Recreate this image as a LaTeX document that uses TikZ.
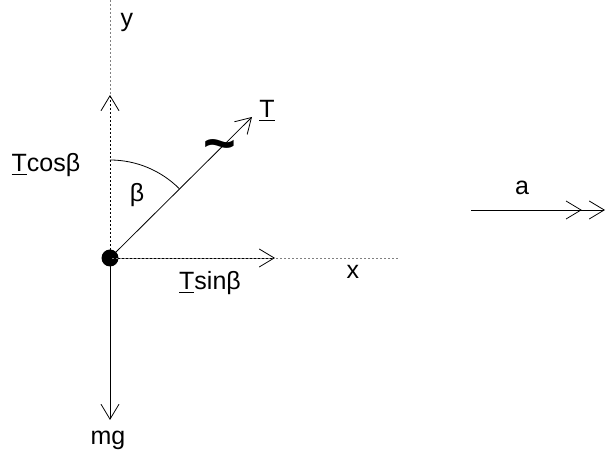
\documentclass[tikz,border=0pt]{standalone}
\usepackage{fontspec}
\setmainfont{Liberation Sans}
\usetikzlibrary{arrows.meta, positioning}
\tikzset{
  axisline/.style={gray, line width=0.4pt, dash pattern=on 1pt off 1pt},
  force/.style={line width=0.4pt, -{Straight Barb[length=7.5pt,width=9pt]}},
  lbl/.style={font=\fontsize{12.5}{14}\selectfont, inner sep=0pt}
}
\begin{document}
\begin{tikzpicture}[x=0.5pt, y=-0.5pt]
  \useasboundingbox (0,0) rectangle (607,454);
  % Axes
  \node[circle, fill, inner sep=0pt, minimum size=8.5pt] (mass) at (110,258) {};
  \coordinate (ytop) at (110,0);
  \coordinate (xend) at (398,258);
  \draw[axisline] (ytop) -- (mass.center) -- (xend);
  \node[lbl] (ylab) at (127,22) {y};
  \node[lbl] (xlab) at (353,272) {x};
  % Forces
  \coordinate (up) at (110,95);
  \coordinate (right) at (275,258);
  \coordinate (down) at (110,420);
  \coordinate (Ttip) at (252,117);
  \draw[force, dash pattern=on 1pt off 1pt] (mass.center) -- (up);
  \draw[force, dash pattern=on 1pt off 1pt] (mass.center) -- (right);
  \draw[force] (mass.center) -- (down);
  \draw[force] (mass.center) -- (Ttip);
  \node[lbl] (mg) at (108,440) {mg};
  \node[lbl] (Tcos) at (46,165) {\underline{T}cosβ};
  \node[lbl] (Tsin) at (210,283) {\underline{T}sinβ};
  \node[lbl] (T) at (267,111) {\underline{T}};
  \node[font=\fontsize{28}{28}\selectfont\bfseries, inner sep=0pt] (tilde) at (220,151) {\textasciitilde};
  % Angle
  \draw[line width=0.4pt] (110,160) arc[start angle=-90, end angle=-45, radius=98];
  \node[lbl] (beta) at (137,195) {β};
  % Acceleration
  \coordinate (a1) at (471,210);
  \coordinate (a2) at (605,210);
  \draw[line width=0.4pt, -{Straight Barb[length=7.5pt,width=9pt,sep=3.5pt]Straight Barb[length=7.5pt,width=9pt]}] (a1) -- (a2);
  \node[lbl] (alab) at (522,188) {a};
\end{tikzpicture}
\end{document}
